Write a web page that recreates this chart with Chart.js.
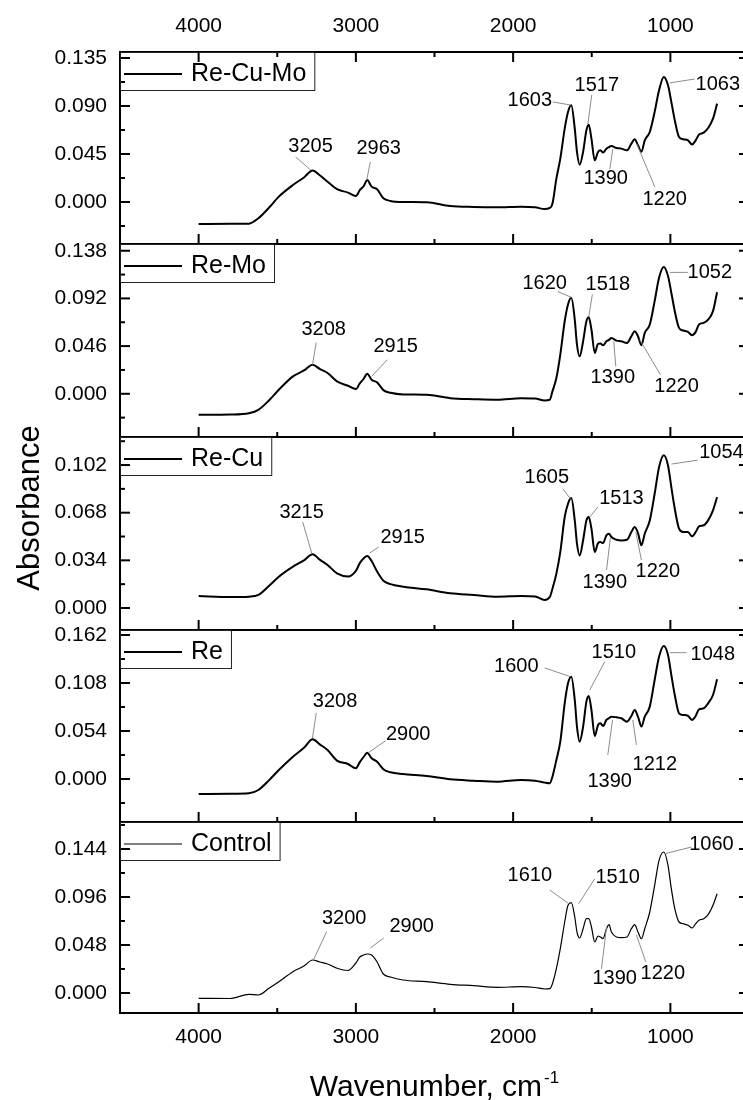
<!DOCTYPE html>
<html>
<head>
<meta charset="utf-8">
<script src="https://cdn.jsdelivr.net/npm/chart.js"></script>
<style>
  html, body { margin: 0; padding: 0; background: #fff; }
  #wrap { position: relative; width: 743px; height: 1100px; overflow: hidden; }
  #wrap canvas { position: absolute; left: 0; top: 0; }
</style>
</head>
<body>
<div id="wrap"></div>
<script>
// FTIR spectra, one panel per sample (x: wavenumber cm-1, y: absorbance)
const wavenumbers = [4000, 3800, 3680, 3620, 3550, 3490, 3400, 3330, 3275, 3230,
  3180, 3120, 3050, 3000, 2975, 2950, 2928, 2900, 2865, 2825,
  2780, 2700, 2550, 2400, 2250, 2100, 1950, 1860, 1800, 1767,
  1750, 1725, 1700, 1672, 1651, 1630, 1608, 1594, 1577, 1555,
  1534, 1519, 1502, 1481, 1460, 1445, 1428, 1407, 1390, 1375,
  1343, 1312, 1276, 1248, 1227, 1206, 1184, 1163, 1131, 1100,
  1072, 1042, 1015, 994, 972, 945, 919, 888, 862, 839,
  818, 788, 760, 729, 703];

const reCuMo = [-0.0206, -0.0205, -0.0203, -0.0153, -0.005, 0.005, 0.0159, 0.023, 0.0294, 0.025,
  0.019, 0.012, 0.0088, 0.0056, 0.011, 0.015, 0.0206, 0.0144, 0.012, 0.0034,
  0.001, 0.0, -0.0003, -0.0038, -0.0047, -0.005, -0.0044, -0.005, -0.0066, -0.0056,
  -0.0016, 0.0219, 0.0406, 0.0688, 0.0844, 0.0906, 0.0688, 0.0469, 0.035, 0.047,
  0.0672, 0.0725, 0.0594, 0.039, 0.0469, 0.0484, 0.0463, 0.05, 0.0515, 0.0525,
  0.0506, 0.05, 0.0484, 0.0547, 0.0588, 0.0531, 0.047, 0.0578, 0.0656, 0.0844,
  0.1047, 0.1172, 0.1094, 0.0938, 0.0766, 0.0609, 0.0588, 0.0578, 0.0538, 0.0578,
  0.0631, 0.065, 0.0694, 0.0781, 0.0922];

const reMo = [-0.0203, -0.020, -0.0187, -0.0155, -0.006, 0.0039, 0.0168, 0.0225, 0.0281, 0.024,
  0.020, 0.0119, 0.0077, 0.0045, 0.010, 0.0145, 0.0194, 0.0136, 0.011, 0.0035,
  0.001, -0.0006, -0.001, -0.0042, -0.0052, -0.0058, -0.0042, -0.0045, -0.0065, -0.0058,
  0.0023, 0.0152, 0.0378, 0.070, 0.0862, 0.0926, 0.0716, 0.0474, 0.0361, 0.0506,
  0.070, 0.0739, 0.062, 0.0394, 0.0481, 0.0484, 0.0468, 0.0506, 0.052, 0.0539,
  0.0513, 0.0506, 0.049, 0.0555, 0.0603, 0.0555, 0.0468, 0.0587, 0.0668, 0.0894,
  0.112, 0.1223, 0.1136, 0.0975, 0.0797, 0.0636, 0.061, 0.0597, 0.0565, 0.0597,
  0.0668, 0.0684, 0.0716, 0.0797, 0.098];

const reCu = [0.0086, 0.0078, 0.0081, 0.0093, 0.016, 0.0223, 0.0295, 0.034, 0.0383, 0.0345,
  0.0307, 0.0247, 0.0225, 0.0265, 0.032, 0.0355, 0.0371, 0.0335, 0.026, 0.0195,
  0.017, 0.0152, 0.0133, 0.0105, 0.0093, 0.0081, 0.0086, 0.0082, 0.0057, 0.0078,
  0.0138, 0.0245, 0.040, 0.0649, 0.0744, 0.0784, 0.0625, 0.0459, 0.0375, 0.0483,
  0.0625, 0.0649, 0.0566, 0.040, 0.0463, 0.047, 0.0463, 0.0518, 0.053, 0.0506,
  0.0487, 0.0482, 0.0487, 0.0542, 0.0578, 0.0535, 0.0447, 0.053, 0.0625, 0.0815,
  0.1005, 0.1089, 0.1017, 0.0863, 0.0708, 0.0566, 0.0542, 0.0542, 0.0511, 0.0542,
  0.0582, 0.059, 0.0625, 0.0697, 0.0791];

const re = [-0.0169, -0.0167, -0.0161, -0.0124, -0.001, 0.0101, 0.0251, 0.035, 0.0446, 0.039,
  0.0326, 0.0206, 0.0169, 0.012, 0.019, 0.025, 0.0296, 0.0233, 0.0195, 0.011,
  0.0075, 0.0056, 0.0034, -0.0004, -0.0019, -0.003, -0.0011, -0.002, -0.0041, -0.0049,
  0.0026, 0.0214, 0.042, 0.0851, 0.1076, 0.1151, 0.0889, 0.0589, 0.042, 0.0589,
  0.087, 0.0934, 0.0776, 0.0484, 0.0608, 0.0626, 0.0596, 0.0664, 0.0685, 0.0701,
  0.0694, 0.0683, 0.0645, 0.0709, 0.0776, 0.0701, 0.0589, 0.0701, 0.0814, 0.1114,
  0.1376, 0.1496, 0.1395, 0.117, 0.0945, 0.0739, 0.072, 0.0709, 0.0664, 0.0709,
  0.0784, 0.0795, 0.0851, 0.0945, 0.1121];

const control = [-0.0053, -0.0055, -0.0013, -0.002, 0.005, 0.0113, 0.0213, 0.027, 0.033, 0.031,
  0.029, 0.0247, 0.0225, 0.030, 0.036, 0.038, 0.039, 0.038, 0.031, 0.019,
  0.016, 0.013, 0.0113, 0.0087, 0.0073, 0.0057, 0.0063, 0.0055, 0.004, 0.0043,
  0.0093, 0.0243, 0.0443, 0.071, 0.0877, 0.0903, 0.076, 0.061, 0.055, 0.0643,
  0.0743, 0.0743, 0.066, 0.051, 0.057, 0.056, 0.0543, 0.064, 0.0683, 0.061,
  0.056, 0.0553, 0.056, 0.0643, 0.0683, 0.061, 0.0543, 0.0643, 0.081, 0.1077,
  0.1327, 0.141, 0.1277, 0.1043, 0.0843, 0.071, 0.0693, 0.0677, 0.065, 0.0693,
  0.0727, 0.0743, 0.0783, 0.0877, 0.0993];

const sampleNames = ["Re-Cu-Mo", "Re-Mo", "Re-Cu", "Re", "Control"];
const spectra = [reCuMo, reMo, reCu, re, control];

const xTicks = [4000, 3000, 2000, 1000];
const yTicks = [
  [0, 0.045, 0.09, 0.135],
  [0, 0.046, 0.092, 0.138],
  [0, 0.034, 0.068, 0.102],
  [0, 0.054, 0.108, 0.162],
  [0, 0.048, 0.096, 0.144],
];
const yRanges = [[-0.0394, 0.1406], [-0.0417, 0.1445], [-0.0157, 0.122], [-0.0484, 0.1676], [-0.020, 0.171]];

// peak labels: [text, label x, label y, leader start x, y, leader end x, y] in data units
const peakLabels = [
  [["3205", 3288, 0.0516, 3383, 0.0422, 3288, 0.030],
   ["2963", 2855, 0.0506, 2908, 0.0375, 2931, 0.0206],
   ["1603", 1894, 0.0956, 1748, 0.0938, 1634, 0.0909],
   ["1517", 1468, 0.1088, 1500, 0.1003, 1525, 0.0731],
   ["1390", 1411, 0.0216, 1385, 0.0309, 1366, 0.0497],
   ["1220", 1036, 0.0028, 1099, 0.0141, 1214, 0.0544],
   ["1063", 698, 0.1106, 845, 0.1153, 1005, 0.1116]],
  [["3208", 3205, 0.062, 3252, 0.0494, 3276, 0.0281],
   ["2915", 2747, 0.0455, 2800, 0.0329, 2900, 0.0167],
   ["1620", 1799, 0.1065, 1716, 0.0987, 1627, 0.0929],
   ["1518", 1398, 0.1055, 1496, 0.0958, 1519, 0.0745],
   ["1390", 1366, 0.0155, 1347, 0.0264, 1360, 0.0506],
   ["1220", 961, 0.0071, 1063, 0.0184, 1195, 0.0523],
   ["1052", 749, 0.1171, 889, 0.1171, 1004, 0.1171]],
  [["3215", 3345, 0.0684, 3338, 0.0613, 3281, 0.0392],
   ["2915", 2702, 0.0506, 2855, 0.0435, 2912, 0.0392],
   ["1605", 1786, 0.0934, 1684, 0.0851, 1636, 0.0779],
   ["1513", 1311, 0.0784, 1462, 0.072, 1513, 0.0649],
   ["1390", 1417, 0.018, 1406, 0.0271, 1381, 0.0506],
   ["1220", 1080, 0.0257, 1184, 0.0342, 1220, 0.0542],
   ["1054", 675, 0.1112, 826, 0.1055, 993, 0.1027]],
  [["3208", 3132, 0.087, 3252, 0.0743, 3276, 0.0461],
   ["2900", 2667, 0.0495, 2810, 0.0431, 2920, 0.0296],
   ["1600", 1980, 0.1263, 1799, 0.1249, 1636, 0.1151],
   ["1510", 1360, 0.1418, 1417, 0.132, 1513, 0.1001],
   ["1390", 1386, -0.003, 1398, 0.027, 1368, 0.0664],
   ["1212", 1099, 0.0158, 1216, 0.0383, 1239, 0.0664],
   ["1048", 730, 0.1406, 898, 0.1421, 1004, 0.1421]],
  [["3200", 3074, 0.075, 3186, 0.0613, 3270, 0.033],
   ["2900", 2645, 0.0663, 2823, 0.055, 2908, 0.045],
   ["1610", 1894, 0.118, 1767, 0.103, 1646, 0.0893],
   ["1510", 1335, 0.116, 1481, 0.1143, 1583, 0.0893],
   ["1390", 1354, 0.0143, 1438, 0.0243, 1406, 0.066],
   ["1220", 1048, 0.0193, 1156, 0.031, 1216, 0.058],
   ["1060", 739, 0.1483, 866, 0.146, 1036, 0.1393]],
];

// page layout of the stacked panels (pixels)
const W = 752, H = 1100;
const panelBox = [[52, 244], [244, 437], [437, 630], [630, 822], [822, 1013]];
const FONT = '"Liberation Sans", Arial, Helvetica, sans-serif';

Chart.defaults.font.family = FONT;
Chart.defaults.color = "#000";

function seg(ctx, x1, y1, x2, y2) {
  ctx.beginPath();
  ctx.moveTo(x1, y1);
  ctx.lineTo(x2, y2);
  ctx.stroke();
}

const panelPlugin = {
  id: "panel",
  afterDraw(chart, args, opts) {
    const i = opts.index;
    const { ctx, chartArea: a } = chart;
    const x = chart.scales.x, y = chart.scales.y;
    ctx.save();

    // frame
    ctx.strokeStyle = "#000";
    ctx.lineWidth = 2;
    ctx.strokeRect(a.left, a.top, a.right - a.left, a.bottom - a.top);

    // inward x ticks
    for (let w = 500; w <= 4500; w += 500) {
      const px = x.getPixelForValue(w);
      if (px <= a.left + 2 || px >= a.right - 2) continue;
      const len = w % 1000 === 0 ? 10 : 5;
      seg(ctx, px, a.bottom, px, a.bottom - len);
      if (i === 0) seg(ctx, px, a.top, px, a.top + len);
    }

    // inward y ticks, left and right
    const step = yTicks[i][1] / 2;
    for (let k = Math.ceil(y.min / step); k * step <= y.max; k++) {
      const py = y.getPixelForValue(k * step);
      if (py <= a.top + 2 || py >= a.bottom - 2) continue;
      const len = k % 2 === 0 ? 10 : 5;
      seg(ctx, a.left, py, a.left + len, py);
      seg(ctx, a.right, py, a.right - len, py);
    }

    // legend box
    const ds = chart.data.datasets[0];
    ctx.font = "25px " + FONT;
    const tw = ctx.measureText(ds.label).width;
    ctx.lineWidth = 1;
    ctx.strokeStyle = "#222";
    ctx.strokeRect(a.left + 0.5, a.top + 0.5, 71 + tw + 8, 38);
    ctx.lineWidth = ds.borderWidth;
    ctx.strokeStyle = "#000";
    seg(ctx, a.left + 4, a.top + 22, a.left + 62, a.top + 22);
    ctx.fillStyle = "#000";
    ctx.textBaseline = "middle";
    ctx.textAlign = "left";
    ctx.fillText(ds.label, a.left + 71, a.top + 22);

    // peak labels with grey leader lines
    ctx.font = "20px " + FONT;
    ctx.textAlign = "center";
    ctx.lineWidth = 1;
    ctx.strokeStyle = "#8c8c8c";
    peakLabels[i].forEach(([t, tx, ty, x1, y1, x2, y2]) => {
      seg(ctx, x.getPixelForValue(x1), y.getPixelForValue(y1), x.getPixelForValue(x2), y.getPixelForValue(y2));
      ctx.fillText(t, x.getPixelForValue(tx), y.getPixelForValue(ty));
    });

    // shared axis titles
    if (i === 2) {
      ctx.save();
      ctx.translate(30, 508);
      ctx.rotate(-Math.PI / 2);
      ctx.font = "31px " + FONT;
      ctx.textAlign = "center";
      ctx.textBaseline = "middle";
      ctx.fillText("Absorbance", 0, 0);
      ctx.restore();
    }
    if (i === 4) {
      const main = "Wavenumber, cm", sup = "-1";
      ctx.font = "30px " + FONT;
      const mw = ctx.measureText(main).width;
      ctx.font = "17px " + FONT;
      const sw = ctx.measureText(sup).width;
      const x0 = (a.left + a.right) / 2 - (mw + sw + 2) / 2;
      ctx.textAlign = "left";
      ctx.textBaseline = "alphabetic";
      ctx.font = "30px " + FONT;
      ctx.fillText(main, x0, 1096);
      ctx.font = "17px " + FONT;
      ctx.fillText(sup, x0 + mw + 2, 1083);
    }
    ctx.restore();
  },
};

const wrap = document.getElementById("wrap");

spectra.forEach((values, i) => {
  const canvas = document.createElement("canvas");
  canvas.width = W;
  canvas.height = H;
  wrap.appendChild(canvas);
  const first = i === 0, last = i === 4;
  const [top, bottom] = panelBox[i];

  new Chart(canvas, {
    type: "line",
    data: {
      datasets: [{
        label: sampleNames[i],
        data: wavenumbers.map((w, k) => ({ x: w, y: values[k] })),
        borderColor: "#000",
        borderWidth: last ? 1.2 : 2,
        pointRadius: 0,
        cubicInterpolationMode: "monotone",
      }],
    },
    options: {
      responsive: false,
      animation: false,
      devicePixelRatio: 1,
      layout: { padding: { left: 0, right: 3, top: first ? 0 : top, bottom: last ? 0 : H - bottom } },
      plugins: { legend: { display: false }, tooltip: { enabled: false }, panel: { index: i } },
      scales: {
        x: {
          type: "linear",
          reverse: true,
          min: 500,
          max: 4500,
          position: first ? "top" : "bottom",
          display: first || last,
          grid: { display: false, drawTicks: false },
          border: { display: false },
          ticks: { padding: first ? 13 : 12, font: { size: 21 }, color: "#000", callback: (v) => String(v) },
          afterBuildTicks: (s) => { s.ticks = xTicks.map((v) => ({ value: v })); },
          afterFit: (s) => { s.height = first ? top : last ? H - bottom : 0; },
        },
        y: {
          type: "linear",
          min: yRanges[i][0],
          max: yRanges[i][1],
          grid: { display: false, drawTicks: false },
          border: { display: false },
          ticks: { padding: 13, font: { size: 21 }, color: "#000", callback: (v) => v.toFixed(3) },
          afterBuildTicks: (s) => { s.ticks = yTicks[i].map((v) => ({ value: v })); },
          afterFit: (s) => { s.width = 120; },
        },
      },
    },
    plugins: [panelPlugin],
  });
});
</script>
</body>
</html>
